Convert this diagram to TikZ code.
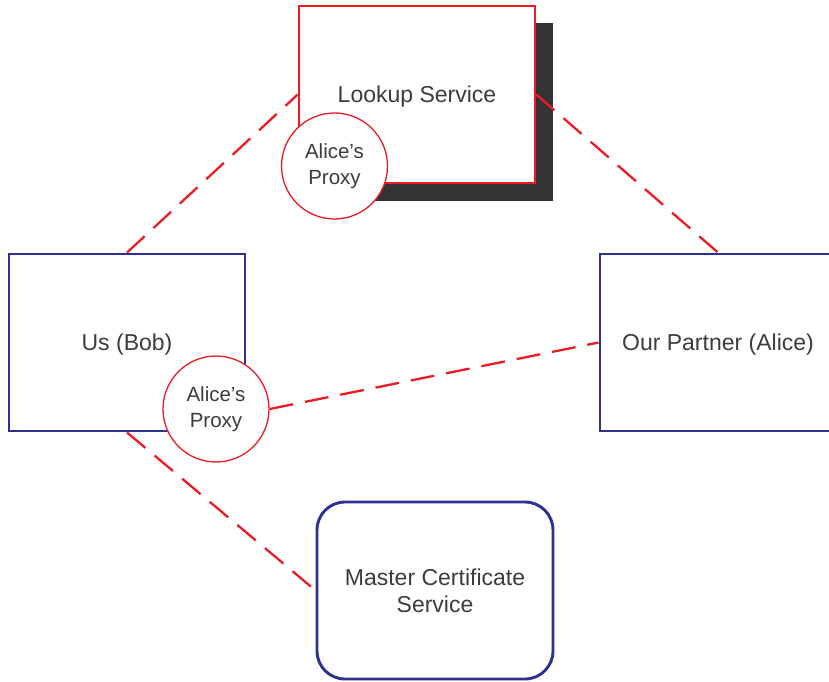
\documentclass[tikz,border=0pt]{standalone}
\usepackage{fontspec}
\setmainfont{Liberation Sans}
\definecolor{navy}{HTML}{2E3192}
\definecolor{linkred}{HTML}{ED1C24}
\definecolor{inkgray}{HTML}{3C3C3E}
\definecolor{shadowgray}{HTML}{333336}
% lower a label a little while keeping its box size
\newcommand{\droplabel}[1]{\raisebox{-2.5pt}[\height][\depth]{#1}}
\begin{document}
\begin{tikzpicture}[x=1pt,y=-1pt,
  every node/.style={text=inkgray, align=center, inner sep=0pt},
  boxsize/.style={minimum width=236pt, minimum height=177pt,
    font=\fontsize{23}{27}\selectfont},
  hostbox/.style={boxsize, draw=navy, line width=2.9pt, fill=white},
  lookupbox/.style={boxsize, draw=linkred, line width=2.6pt, fill=white},
  proxy/.style={circle, draw=linkred, line width=1.3pt, fill=white,
    minimum size=106pt, font=\fontsize{20.5}{26}\selectfont},
  link/.style={draw=linkred, line width=2.3pt, dash pattern=on 24pt off 12pt}
]
\useasboundingbox (0,0) rectangle (829,681);

% lookup service with its drop shadow
\fill[shadowgray] (317,23) rectangle (553,201);
\node[lookupbox] (look) at (417,94.5) {\droplabel{Lookup Service}};

% hosts
\node[hostbox] (bob) at (127,342.5) {\droplabel{Us (Bob)}};
\node[hostbox] (alice) at (718,342.5) {\droplabel{Our Partner (Alice)}};
\node[hostbox, rounded corners=28pt] (master) at (435,590.5)
  {Master Certificate\\Service};

% connections
\draw[link] (bob.north) -- (look.west);
\draw[link] (look.east) -- (alice.north);
\draw[link] (bob.south) -- (master.west);

% proxies
\node[proxy] (p1) at (334.5,166) {Alice’s\\Proxy};
\node[proxy] (p2) at (216,409) {Alice’s\\Proxy};
\draw[link] (p2.east) -- (alice.west);
\end{tikzpicture}
\end{document}
